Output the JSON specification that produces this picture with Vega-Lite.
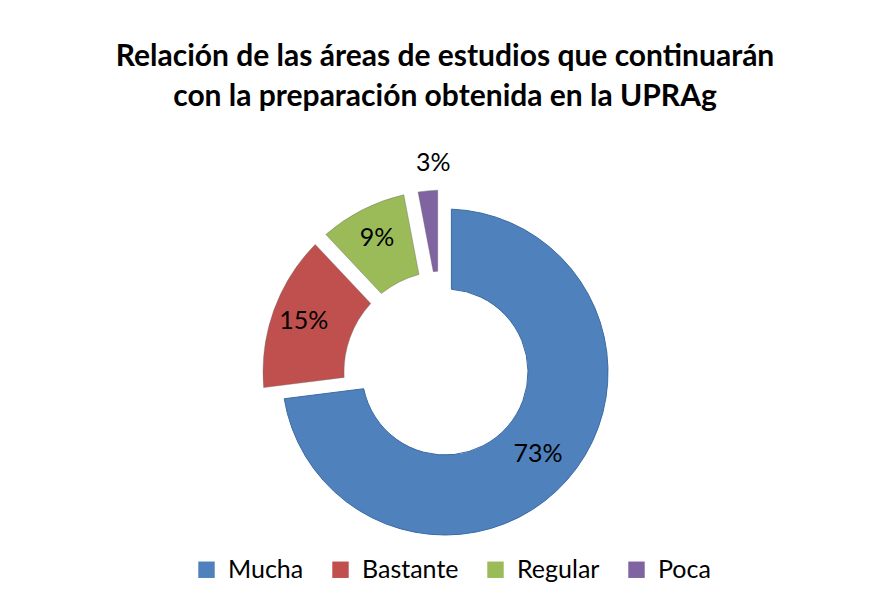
{
  "$schema": "https://vega.github.io/schema/vega-lite/v6.json",
  "autosize": {"type": "none"},
  "width": 890,
  "height": 484,
  "padding": {"left": 0, "top": 130, "right": 0, "bottom": 0},
  "background": "white",
  "title": {
    "text": ["Relación de las áreas de estudios que continuarán", "con la preparación obtenida en la UPRAg"],
    "font": "Lato",
    "fontSize": 30,
    "fontWeight": "bold",
    "color": "#000000",
    "lineHeight": 40,
    "anchor": "middle",
    "offset": 18
  },
  "data": {
    "values": [
      {"categoria": "Mucha", "valor": 73, "orden": 1, "etiqueta": "73%"},
      {"categoria": "Bastante", "valor": 15, "orden": 2, "etiqueta": "15%"},
      {"categoria": "Regular", "valor": 9, "orden": 3, "etiqueta": "9%"},
      {"categoria": "Poca", "valor": 3, "orden": 4, "etiqueta": "3%"}
    ]
  },
  "transform": [
    {"stack": "valor", "groupby": [], "sort": [{"field": "orden"}], "as": ["v0", "v1"]},
    {"calculate": "(datum.v0 + datum.v1) / 2", "as": "vm"}
  ],
  "encoding": {
    "color": {
      "field": "categoria",
      "type": "nominal",
      "sort": ["Mucha", "Bastante", "Regular", "Poca"],
      "scale": {"domain": ["Mucha", "Bastante", "Regular", "Poca"], "range": ["#4F81BD", "#C0504D", "#9BBB59", "#8064A2"]},
      "legend": {
        "title": null,
        "orient": "none",
        "direction": "horizontal",
        "legendX": 194,
        "legendY": 427,
        "symbolType": "square",
        "symbolSize": 270,
        "symbolStrokeWidth": 0,
        "labelFont": "Lato",
        "labelFontSize": 25,
        "labelColor": "#000000",
        "labelOffset": 9,
        "columnPadding": 24
      }
    }
  },
  "layer": [
    {
      "transform": [{"filter": "datum.categoria === 'Mucha'"}],
      "mark": {"type": "arc", "radius": 163, "radius2": 83, "padAngle": 0.07, "stroke": "#3a6aa3", "strokeWidth": 1},
      "encoding": {
        "theta": {"field": "v0", "type": "quantitative", "scale": {"domain": [0, 100]}},
        "theta2": {"field": "v1"}
      }
    },
    {
      "transform": [{"filter": "datum.categoria !== 'Mucha'"}],
      "mark": {"type": "arc", "radius": 182, "radius2": 101, "padAngle": 0.07, "strokeWidth": 1, "stroke": "#666666", "strokeOpacity": 0.4},
      "encoding": {
        "theta": {"field": "v0", "type": "quantitative", "scale": {"domain": [0, 100]}},
        "theta2": {"field": "v1"}
      }
    },
    {
      "transform": [{"filter": "datum.categoria === 'Mucha'"}],
      "mark": {"type": "text", "radius": 124, "font": "Lato", "fontSize": 25},
      "encoding": {
        "theta": {"field": "vm", "type": "quantitative", "scale": {"domain": [0, 100]}},
        "text": {"field": "etiqueta"},
        "color": {"value": "#000000"}
      }
    },
    {
      "transform": [{"filter": "datum.categoria === 'Bastante' || datum.categoria === 'Regular'"}],
      "mark": {"type": "text", "radius": 150, "font": "Lato", "fontSize": 25},
      "encoding": {
        "theta": {"field": "vm", "type": "quantitative", "scale": {"domain": [0, 100]}},
        "text": {"field": "etiqueta"},
        "color": {"value": "#000000"}
      }
    },
    {
      "transform": [{"filter": "datum.categoria === 'Poca'"}],
      "mark": {"type": "text", "radius": 210, "dx": 8, "font": "Lato", "fontSize": 25},
      "encoding": {
        "theta": {"field": "vm", "type": "quantitative", "scale": {"domain": [0, 100]}},
        "text": {"field": "etiqueta"},
        "color": {"value": "#000000"}
      }
    }
  ],
  "config": {"view": {"stroke": null}}
}
